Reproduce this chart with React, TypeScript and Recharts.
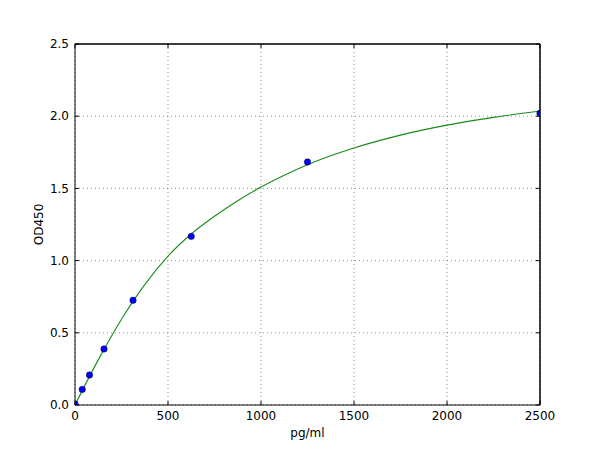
import React from 'react';
import { ComposedChart, Line, Scatter, XAxis, YAxis, CartesianGrid, ReferenceLine } from 'recharts';

const curveX = [0, 125, 250, 375, 500, 625, 750, 875, 1000, 1125, 1250, 1375, 1500, 1750, 2000, 2250, 2500];
const curveY = [0.0, 0.3125, 0.594, 0.834, 1.031, 1.184, 1.307, 1.415, 1.509, 1.591, 1.664, 1.726, 1.78, 1.869, 1.938, 1.992, 2.036];
const pointX = [0, 39, 78, 156, 312, 625, 1250, 2500];
const pointY = [0.007, 0.108, 0.208, 0.388, 0.725, 1.168, 1.683, 2.02];
const xTicks = [0, 500, 1000, 1500, 2000, 2500];
const yTicks = [0, 0.5, 1.0, 1.5, 2.0, 2.5];

const curveData = curveX.map((x, i) => ({ x, y: curveY[i] }));
const pointData = pointX.map((x, i) => ({ x, y: pointY[i] }));

const FONT = 'DejaVu Sans';
const tickStyle = { fontFamily: FONT, fontSize: 12, fill: '#000' };

const YLabel = (props: any) => {
  const vb = props.viewBox;
  const cy = vb.y + vb.height / 2;
  return (
    <text x={39} y={cy} transform={`rotate(-90, 39, ${cy})`} textAnchor="middle" dominantBaseline="central"
      style={{ fontFamily: FONT, fontSize: 12, fill: '#000' }}>OD450</text>
  );
};

const XLabel = (props: any) => {
  const vb = props.viewBox;
  const cx = vb.x + vb.width / 2;
  return (
    <text x={cx} y={433} textAnchor="middle" dominantBaseline="central"
      style={{ fontFamily: FONT, fontSize: 12, fill: '#000' }}>pg/ml</text>
  );
};

const noTick = () => <g />;
const noShape = () => <g />;

export default function App() {
  return (
    <div style={{ position: 'absolute', left: 0, top: 0, width: 600, height: 450, background: '#fff' }}>
      <ComposedChart width={600} height={450} margin={{ top: 43, right: 59, bottom: 0, left: 0 }}>
        <CartesianGrid stroke="#000" strokeOpacity={0.55} strokeWidth={0.8} strokeDasharray="1 3" />
        <XAxis dataKey="x" type="number" domain={[0, 2500]} ticks={xTicks} height={45}
          allowDataOverflow orientation="bottom" axisLine={{ stroke: '#000' }} tickLine={{ stroke: '#000' }}
          tickSize={-4} tickMargin={10} tick={tickStyle} label={<XLabel />} />
        <XAxis xAxisId="t" dataKey="x" type="number" domain={[0, 2500]} ticks={xTicks} height={1}
          allowDataOverflow orientation="top" axisLine={{ stroke: '#000' }} tickLine={{ stroke: '#000' }}
          tickSize={-4} tick={noTick} />
        <YAxis dataKey="y" type="number" domain={[0, 2.5]} ticks={yTicks} width={75}
          allowDataOverflow orientation="left" axisLine={{ stroke: '#000' }} tickLine={{ stroke: '#000' }}
          tickSize={-4} tickMargin={10} tick={tickStyle} tickFormatter={(v: number) => v.toFixed(1)} label={<YLabel />} />
        <YAxis yAxisId="r" dataKey="y" type="number" domain={[0, 2.5]} ticks={yTicks} width={1}
          allowDataOverflow orientation="right" axisLine={{ stroke: '#000' }} tickLine={{ stroke: '#000' }}
          tickSize={-4} tick={noTick} />
        <ReferenceLine y={2.5} stroke="#000" strokeWidth={1} />
        <ReferenceLine x={2500} stroke="#000" strokeWidth={1} />
        <Scatter xAxisId="t" yAxisId="r" data={pointData} dataKey="y" shape={noShape} isAnimationActive={false} />
        <Line data={curveData} dataKey="y" type="monotone" stroke="#1a8a1a"
          strokeWidth={1.1} dot={false} activeDot={false} isAnimationActive={false} />
        <Scatter data={pointData} dataKey="y" fill="#0000ff"
          shape={(p: any) => <circle cx={p.cx} cy={p.cy} r={3.2} fill="#0000ff" stroke="#000040" strokeWidth={0.5} />}
          isAnimationActive={false} />
      </ComposedChart>
    </div>
  );
}
